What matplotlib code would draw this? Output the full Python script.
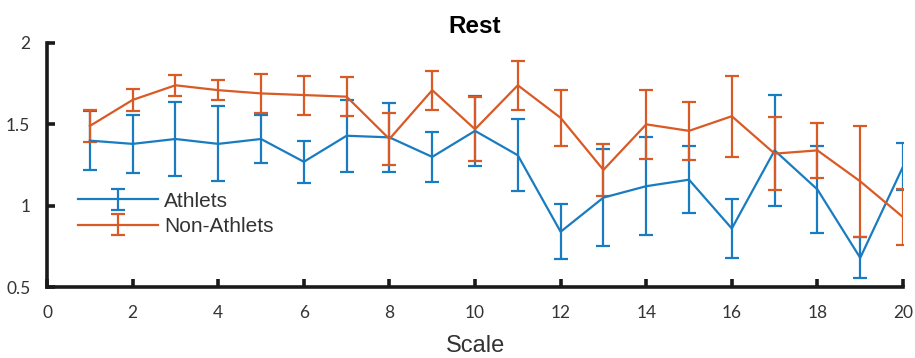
import numpy as np
import matplotlib
matplotlib.use('Agg')
from matplotlib import pyplot as plt

plt.rcParams['font.family'] = ['Liberation Sans', 'DejaVu Sans']

# MATLAB-like default colours
BLUE = '#1a7cc0'
ORANGE = '#d95a24'

scale = list(range(1, 21))

athlets_mean = [1.40, 1.38, 1.41, 1.38, 1.41, 1.27, 1.43, 1.42, 1.30, 1.46,
                1.31, 0.84, 1.05, 1.12, 1.16, 0.86, 1.34, 1.10, 0.68, 1.24]
athlets_err = [0.18, 0.18, 0.23, 0.23, 0.15, 0.13, 0.22, 0.21, 0.155, 0.215,
               0.22, 0.17, 0.30, 0.30, 0.205, 0.18, 0.34, 0.27, 0.125, 0.145]

non_athlets_mean = [1.49, 1.65, 1.74, 1.71, 1.69, 1.68, 1.67, 1.41, 1.71, 1.47,
                    1.74, 1.54, 1.22, 1.50, 1.46, 1.55, 1.32, 1.34, 1.15, 0.93]
non_athlets_err = [0.10, 0.067, 0.066, 0.06, 0.12, 0.12, 0.12, 0.16, 0.12, 0.195,
                   0.15, 0.17, 0.16, 0.21, 0.177, 0.25, 0.225, 0.17, 0.34, 0.17]

x_ticks = list(range(0, 21, 2))
y_ticks = [0.5, 1, 1.5, 2]
y_tick_labels = ['0.5', '1', '1.5', '2']

fig = plt.figure(figsize=(9.15, 3.58), dpi=100, facecolor='white')
ax = fig.add_axes([0.0514, 0.198, 0.9355, 0.682])

ax.errorbar(scale, athlets_mean, yerr=athlets_err, color=BLUE, lw=1.6,
            elinewidth=1.6, capsize=5, capthick=1.6, label='Athlets')
ax.errorbar(scale, non_athlets_mean, yerr=non_athlets_err, color=ORANGE, lw=1.6,
            elinewidth=1.6, capsize=5, capthick=1.6, label='Non-Athlets')

ax.set_xlim(0, 20)
ax.set_ylim(0.5, 2)
ax.set_xticks(x_ticks)
ax.set_yticks(y_ticks)
ax.set_yticklabels(y_tick_labels)

for side in ('top', 'right'):
    ax.spines[side].set_visible(False)
for side in ('left', 'bottom'):
    ax.spines[side].set_linewidth(2.6)
    ax.spines[side].set_color('#1a1a1a')

ax.tick_params(direction='in', length=6, width=2.6, color='#1a1a1a',
               labelsize=12.5, labelcolor='#333333')
ax.tick_params(axis='x', pad=13)
ax.tick_params(axis='y', pad=12)
for lbl in ax.get_xticklabels() + ax.get_yticklabels():
    lbl.set_family('Lato')

ax.set_title('Rest', fontsize=17.5, fontweight='bold', pad=7)
ax.set_xlabel('Scale', fontsize=17, color='#333333', labelpad=10)

ax.legend(loc='center left', bbox_to_anchor=(0.026, 0.30), frameon=False,
          fontsize=15, handlelength=3.85, handletextpad=0.3, labelspacing=0.3,
          borderaxespad=0, labelcolor='#333333')

fig.savefig('out.png', dpi=100, facecolor='white')
plt.close(fig)
